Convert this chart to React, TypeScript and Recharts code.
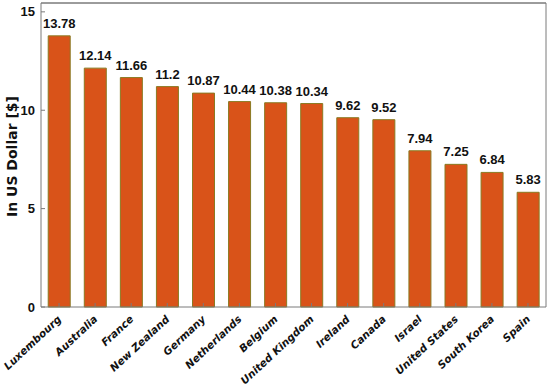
import React from "react";
import { ComposedChart, Bar, Line, XAxis, YAxis, LabelList, ReferenceLine } from "recharts";

const countries = [
  "Luxembourg", "Australia", "France", "New Zealand", "Germany", "Netherlands",
  "Belgium", "United Kingdom", "Ireland", "Canada", "Israel", "United States",
  "South Korea", "Spain",
];
const prices = [13.78, 12.14, 11.66, 11.2, 10.87, 10.44, 10.38, 10.34, 9.62, 9.52, 7.94, 7.25, 6.84, 5.83];
const yTicks = [0, 5, 10, 15];
const yMax = 15.45;

const data = countries.map((c, i) => ({ country: c, price: prices[i] }));

const WIDE = "'DejaVu Sans', Verdana, sans-serif";
const NARROW = "'Liberation Sans Narrow', 'Arial Narrow', 'Liberation Sans', Arial, sans-serif";
const AXIS = "#7a7a7a";

const XTick = (props: any) => {
  const { x, y, payload } = props;
  return (
    <g transform={`translate(${x + 3},${y + 17})`}>
      <text
        x={0}
        y={0}
        textAnchor="end"
        transform="rotate(-43)"
        fontFamily={WIDE}
        fontSize={10.5}
        fontWeight="bold"
        fontStyle="italic"
        fill="#111"
      >
        {payload.value}
      </text>
    </g>
  );
};

export default function App() {
  return (
    <div style={{ position: "absolute", left: 0, top: 0, background: "#fff" }}>
      <ComposedChart
        width={550}
        height={392}
        data={data}
        margin={{ top: 2, right: 3, bottom: 0, left: 0 }}
        barCategoryGap="20%"
      >
        <XAxis
          dataKey="country"
          xAxisId="bottom"
          interval={0}
          height={85}
          tickSize={-4}
          tickMargin={0}
          tick={<XTick />}
          stroke={AXIS}
          tickLine={{ stroke: AXIS }}
        />
        <XAxis
          dataKey="country"
          xAxisId="top"
          orientation="top"
          interval={0}
          height={1}
          tickSize={-4}
          tick={false}
          stroke={AXIS}
          tickLine={{ stroke: AXIS }}
        />
        <YAxis
          yAxisId="left"
          domain={[0, yMax]}
          ticks={yTicks}
          width={41}
          tickSize={-4}
          tickMargin={10}
          stroke={AXIS}
          tick={{ fontFamily: NARROW, fontSize: 13, fontWeight: "bold", fill: "#111" }}
          label={{
            value: "In US Dollar [$]",
            angle: -90,
            position: "insideLeft",
            dx: 7,
            dy: 62,
            style: { fontFamily: WIDE, fontSize: 14, fontWeight: "bold", fill: "#111" },
          }}
        />
        <YAxis
          yAxisId="right"
          orientation="right"
          domain={[0, yMax]}
          ticks={yTicks}
          width={1}
          tickSize={-4}
          tick={false}
          stroke={AXIS}
        />
        <ReferenceLine y={yMax} xAxisId="bottom" yAxisId="left" stroke={AXIS} />
        <Bar
          dataKey="price"
          xAxisId="bottom"
          yAxisId="left"
          fill="#D95319"
          stroke="#8a7a22"
          strokeWidth={1}
          isAnimationActive={false}
        >
          <LabelList
            dataKey="price"
            position="top"
            offset={8}
            style={{ fontFamily: NARROW, fontSize: 13, fontWeight: "bold", fill: "#111" }}
          />
        </Bar>
        <Line
          dataKey="price"
          xAxisId="top"
          yAxisId="right"
          stroke="none"
          dot={false}
          activeDot={false}
          legendType="none"
          isAnimationActive={false}
        />
      </ComposedChart>
    </div>
  );
}
